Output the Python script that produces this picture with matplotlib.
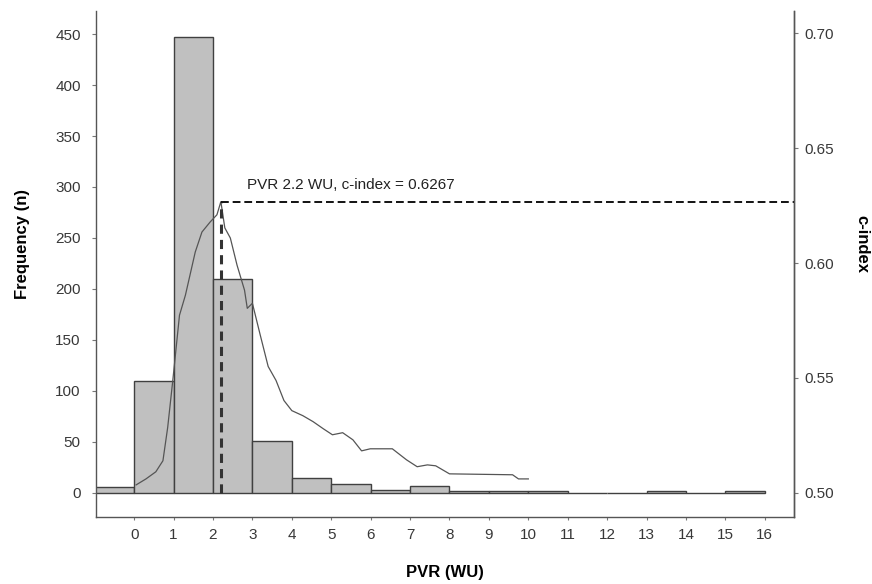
import numpy as np
import matplotlib
matplotlib.use("Agg")
import matplotlib.pyplot as plt

plt.rcParams['font.family'] = ['Liberation Sans', 'DejaVu Sans']

# histogram of PVR (bin edges in WU, counts)
bin_edges = [-1, 0, 1, 2, 3, 4, 5, 6, 7, 8, 9, 10, 11, 12, 13, 14, 15, 16]
counts = [6, 110, 447, 210, 51, 15, 9, 3, 7, 2, 2, 2, 0, 0, 2, 0, 2]

# c-index as a function of the PVR cut-off
pvr_cut = [0.05, 0.30, 0.55, 0.73, 0.85, 0.98, 1.15, 1.30, 1.55, 1.72, 1.93, 2.10, 2.20,
           2.30, 2.44, 2.61, 2.80, 2.87, 3.00, 3.20, 3.40, 3.60, 3.80, 4.00, 4.28, 4.54,
           4.80, 5.03, 5.29, 5.55, 5.77, 5.99, 6.55, 6.91, 7.18, 7.44, 7.65, 8.00, 9.60,
           9.75, 10.00]
c_index = [0.5035, 0.5061, 0.5092, 0.5140, 0.5284, 0.5489, 0.5773, 0.5860, 0.6048, 0.6135,
           0.6179, 0.6210, 0.6267, 0.6153, 0.6109, 0.5991, 0.5882, 0.5803, 0.5825, 0.5686,
           0.5550, 0.5489, 0.5402, 0.5358, 0.5336, 0.5310, 0.5279, 0.5253, 0.5262, 0.5231,
           0.5183, 0.5192, 0.5192, 0.5144, 0.5114, 0.5122, 0.5118, 0.5083, 0.5079, 0.5061,
           0.5061]

best_pvr = 2.2
best_c = 0.6267

x_ticks = list(range(0, 17))
freq_ticks = [0, 50, 100, 150, 200, 250, 300, 350, 400, 450]
c_ticks = [0.50, 0.55, 0.60, 0.65, 0.70]

fig = plt.figure(figsize=(8.72, 5.84), dpi=100)
ax = fig.add_axes([0.110, 0.115, 0.801, 0.866])
ax2 = ax.twinx()

lefts = bin_edges[:-1]
widths = np.diff(bin_edges)
ax.bar(lefts, counts, width=widths, align='edge', color='#c0c0c0',
       edgecolor='#404040', linewidth=1.0, zorder=2)

ax.set_xlim(-0.97, 16.75)
ax.set_ylim(-23.5, 472.5)
ax2.set_ylim(0.4896, 0.7096)

ax2.plot(pvr_cut, c_index, color='#555555', linewidth=0.9)
ax2.vlines(best_pvr, 0.5, best_c, colors='#333333', linestyles=(0, (3, 2)), linewidth=2.2)
ax2.hlines(best_c, best_pvr, 16.75, colors='#111111', linestyles=(0, (4, 2)), linewidth=1.4)
ax2.text(2.87, 0.634, f"PVR {best_pvr} WU, c-index = {best_c}", fontsize=11,
         color='#222222', va='center', ha='left')

ax.set_xticks(x_ticks)
ax.set_yticks(freq_ticks)
ax2.set_yticks(c_ticks)
ax2.set_yticklabels([f"{v:.2f}" for v in c_ticks])

for a in (ax, ax2):
    a.spines['top'].set_visible(False)
    for s in a.spines.values():
        s.set_color('#555555')
        s.set_linewidth(1.0)
ax2.spines['left'].set_visible(False)
ax2.spines['bottom'].set_visible(False)

ax.tick_params(axis='x', length=2, width=0.8, color='#777777', labelsize=11,
               labelcolor='#383838', pad=6)
ax.tick_params(axis='y', length=3, width=0.8, color='#777777', labelsize=11,
               labelcolor='#383838', pad=8)
ax2.tick_params(axis='y', length=3, width=0.8, color='#777777', labelsize=11,
                labelcolor='#383838', pad=4)

fig.text(0.5 * (0.110 + 0.911), 1 - 572 / 584, "PVR (WU)", fontsize=12,
         fontweight='bold', ha='center', va='center')
fig.text(23 / 872, 1 - 244 / 584, "Frequency (n)", fontsize=12, fontweight='bold',
         rotation=90, ha='center', va='center')
fig.text(862 / 872, 1 - 244 / 584, "c-index", fontsize=12, fontweight='bold',
         rotation=270, ha='center', va='center')

fig.savefig("out.png", dpi=100)
